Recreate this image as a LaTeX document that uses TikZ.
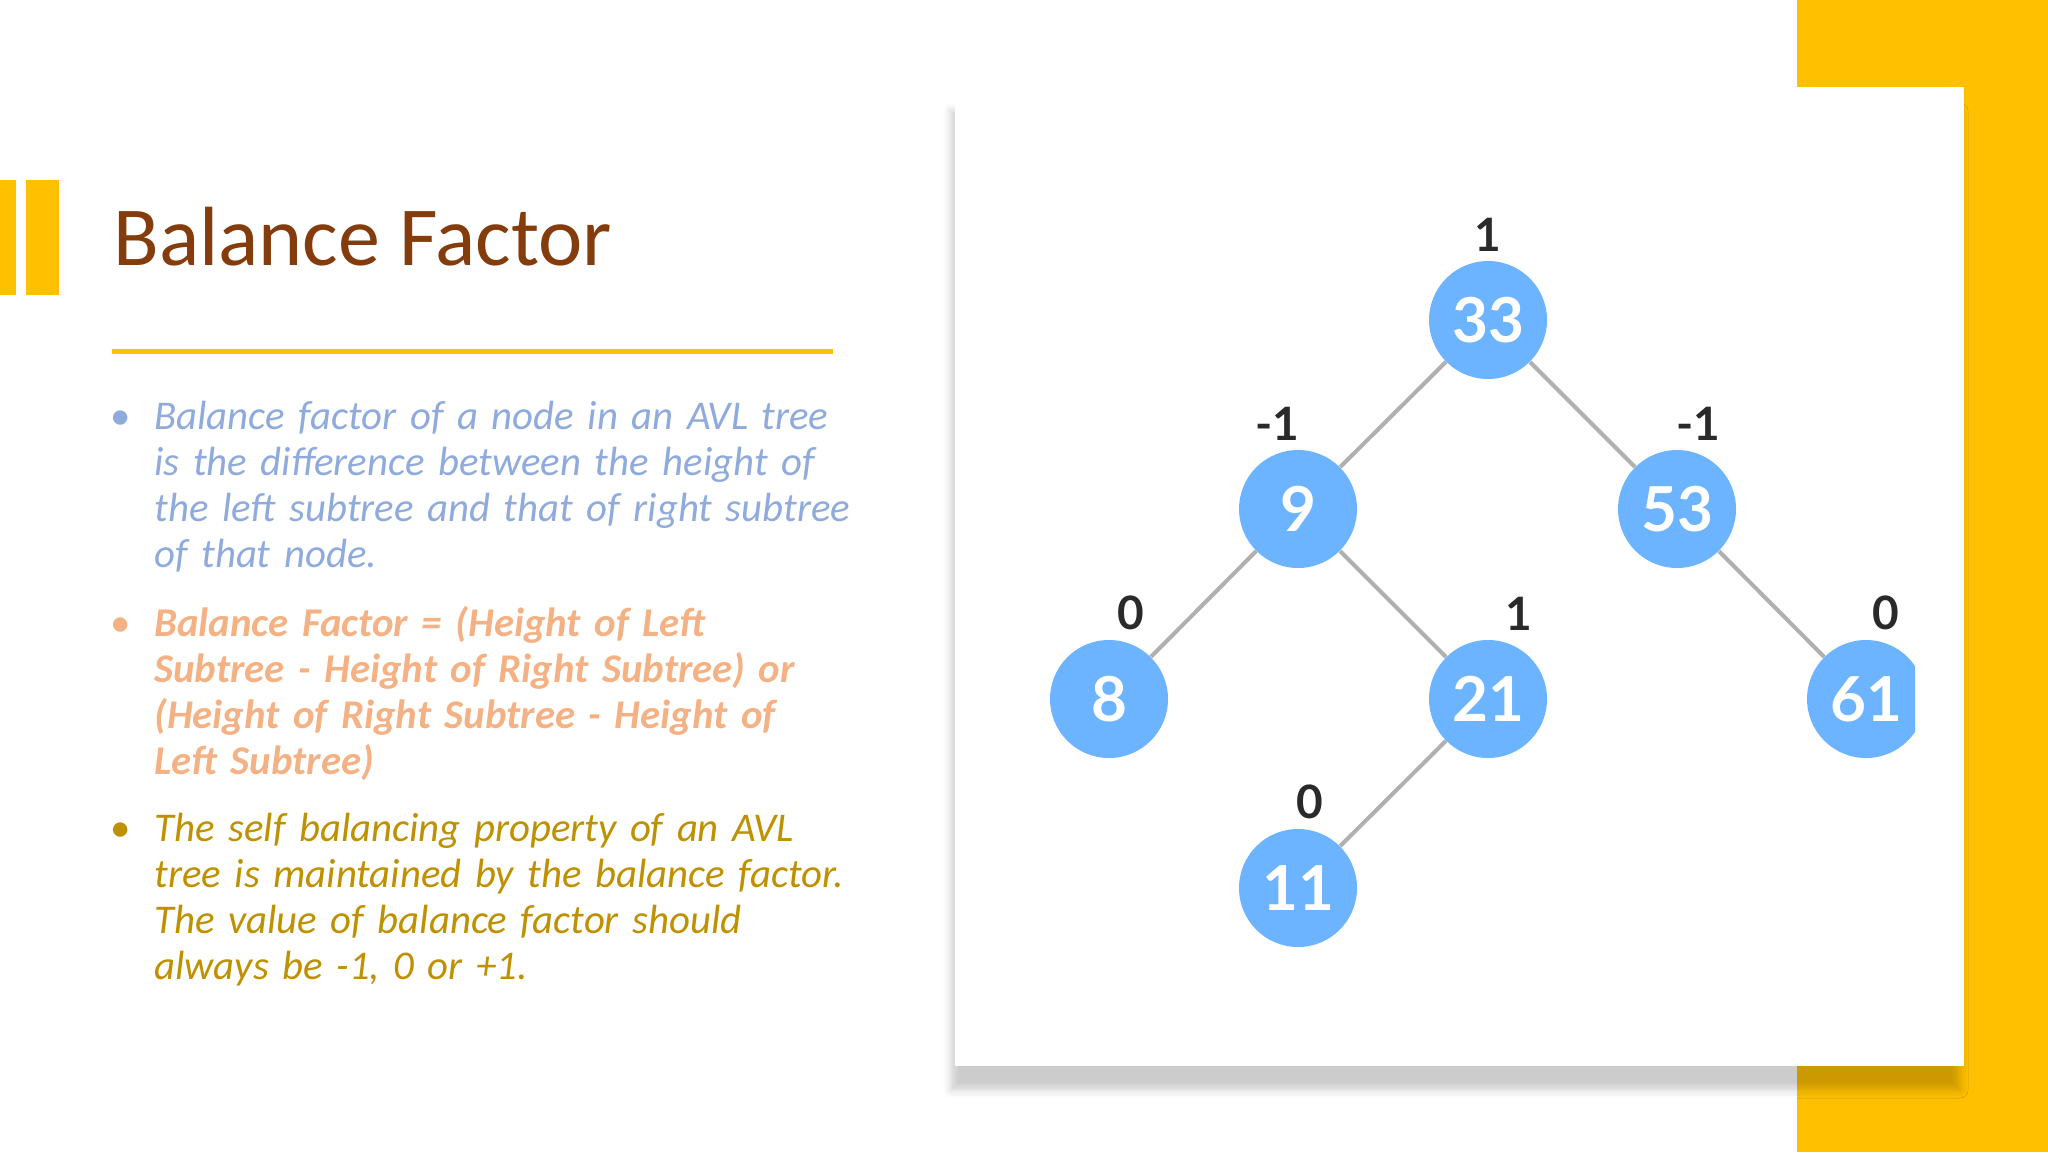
\documentclass[tikz,border=0pt]{standalone}
\usepackage{fontspec}
\setmainfont{Carlito}
\newfontfamily\treefont{Lato}
\usetikzlibrary{positioning,shadows.blur}

\definecolor{slidegold}{HTML}{FFC000}
\definecolor{titlebrown}{HTML}{843C0C}
\definecolor{bulletblue}{HTML}{8FAADC}
\definecolor{bulletpeach}{HTML}{F4B183}
\definecolor{bulletgold}{HTML}{BF9000}
\definecolor{treeblue}{HTML}{6CB4FF}
\definecolor{edgegray}{HTML}{B0B0B0}
\definecolor{labelgray}{HTML}{2A2A2A}

\begin{document}
\begin{tikzpicture}[x=0.5pt, y=-0.5pt,
    every node/.style={inner sep=0pt},
    sidebar/.style={fill=slidegold, draw=none},
    bodytext/.style={anchor=base west, text width=420pt, align=left, font=\fontsize{20.4}{23}\selectfont\itshape},
    bulletdot/.style={anchor=base, font=\fontsize{20.4}{23}\selectfont},
    keynode/.style={circle, fill=treeblue, minimum size=59pt, text=white, font=\treefont\bfseries\fontsize{31}{31}\selectfont},
    balance/.style={text=labelgray, font=\treefont\bfseries\fontsize{23}{23}\selectfont},
    link/.style={draw=edgegray, line width=2pt}
  ]
    \useasboundingbox (0,0) rectangle (2048,1152);

    % slide decoration
    \fill[sidebar] (1797,0) rectangle (2048,1152);
    \fill[sidebar] (0,180) rectangle (16,295);
    \fill[sidebar] (26,180) rectangle (59,295);
    \draw[slidegold, line width=2.5pt] (112,351) -- (833,351);

    \node[anchor=base west, text=titlebrown, font=\fontsize{42}{42}\selectfont] (title) at (113,265) {Balance Factor};

    % bullets
    \node[bulletdot, text=bulletblue] (d1) at (121,429) {•};
    \node[bodytext, text=bulletblue] (p1) at (154,429) {Balance factor of a node in an AVL tree\\is the difference between the height of\\the left subtree and that of right subtree\\of that node.};
    \node[bulletdot, text=bulletpeach] (d2) at (121,636) {•};
    \node[bodytext, text=bulletpeach] (p2) at (154,636) {\bfseries Balance Factor = (Height of Left\\Subtree - Height of Right Subtree) or\\(Height of Right Subtree - Height of\\Left Subtree)};
    \node[bulletdot, text=bulletgold] (d3) at (121,841) {•};
    \node[bodytext, text=bulletgold] (p3) at (154,841) {The self balancing property of an AVL\\tree is maintained by the balance factor.\\The value of balance factor should\\always be -1, 0 or +1.};

    % picture panel
    \fill[white, blur shadow={shadow xshift=-2pt, shadow yshift=-12pt, shadow blur radius=4pt, shadow opacity=20}] (955,87) rectangle (1964,1066);

    % tree
    \node[keynode] (n33) at (1488,320) {33};
    \node[keynode] (n9) at (1298,509) {9};
    \node[keynode] (n53) at (1677,509) {53};
    \node[keynode] (n8) at (1109,699) {8};
    \node[keynode] (n21) at (1488,699) {21};
    \node[keynode] (n11) at (1298,888) {11};
    \begin{scope}
      \clip (955,87) rectangle (1915,1066);
      \node[keynode] (n61) at (1866,699) {61};
    \end{scope}

    \draw[link] (n33) -- (n9);
    \draw[link] (n33) -- (n53);
    \draw[link] (n9) -- (n8);
    \draw[link] (n9) -- (n21);
    \draw[link] (n21) -- (n11);
    \draw[link] (n53) -- (n61);

    \node[balance, above=4.5pt of n33] (b33) {1};
    \node[balance, above=4.5pt of n9, xshift=-10.5pt] (b9) {-1};
    \node[balance, above=4.5pt of n53, xshift=10.5pt] (b53) {-1};
    \node[balance, above=4.5pt of n8, xshift=11pt] (b8) {0};
    \node[balance, above=4.5pt of n21, xshift=15.5pt] (b21) {1};
    \node[balance, above=4.5pt of n61, xshift=10pt] (b61) {0};
    \node[balance, above=4.5pt of n11, xshift=6pt] (b11) {0};
  \end{tikzpicture}
\end{document}
